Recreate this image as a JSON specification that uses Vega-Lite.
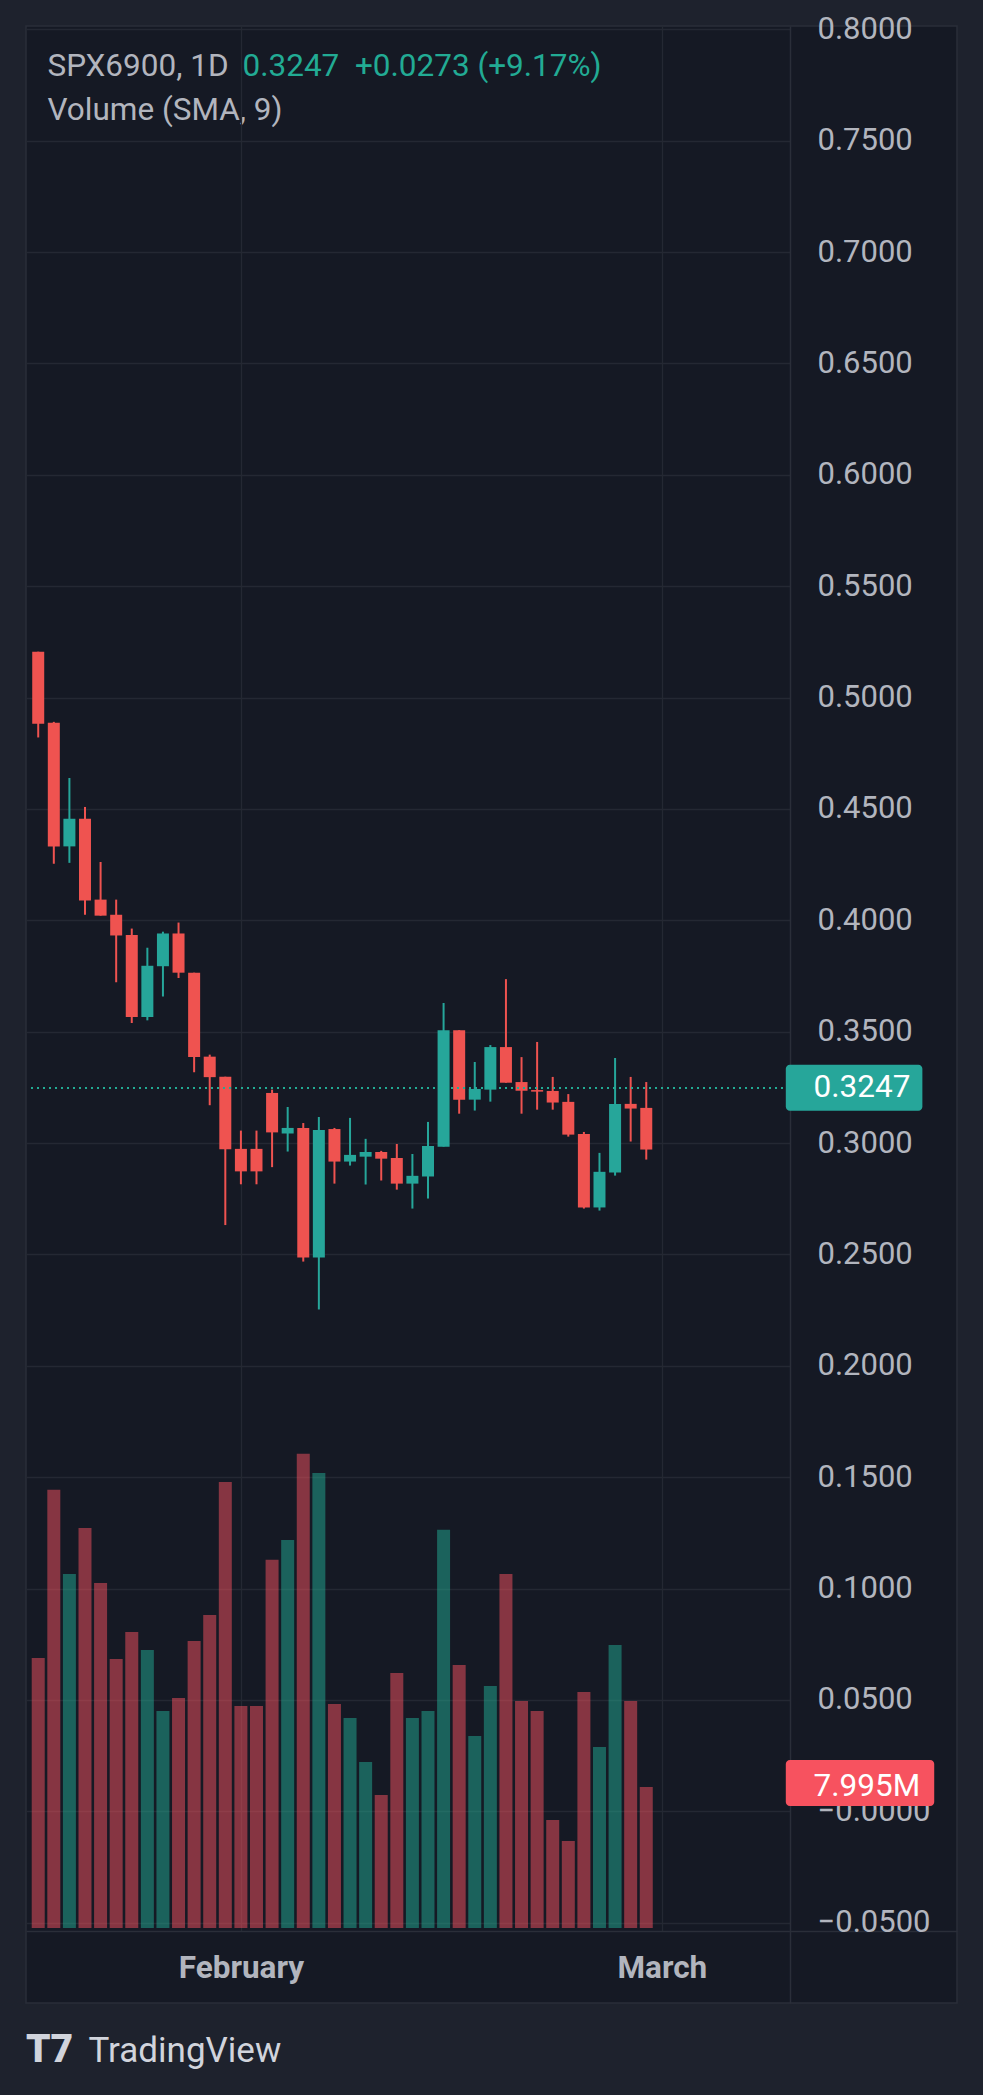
{
  "$schema": "https://vega.github.io/schema/vega-lite/v6.json",
  "width": 931,
  "height": 1977,
  "autosize": {"type": "none"},
  "padding": {"left": 26, "top": 26, "right": 26, "bottom": 92},
  "background": "#1e222d",
  "title": {
    "text": "T7",
    "orient": "none",
    "anchor": "start",
    "frame": "group",
    "dx": 0,
    "dy": 2024,
    "baseline": "middle",
    "font": "Roboto",
    "fontSize": 39,
    "fontWeight": 900,
    "color": "#d1d4dc"
  },
  "config": {
    "view": {"fill": "#151924", "stroke": "#2a2e39", "strokeWidth": 1.5},
    "font": "Roboto"
  },
  "datasets": {
    "candles": [
      {"i": 1, "open": 0.5206, "high": 0.5206, "low": 0.4821, "close": 0.4883, "volume": 15.31},
      {"i": 2, "open": 0.4887, "high": 0.4891, "low": 0.4254, "close": 0.4332, "volume": 24.84},
      {"i": 3, "open": 0.4332, "high": 0.4639, "low": 0.4258, "close": 0.4456, "volume": 20.07},
      {"i": 4, "open": 0.4456, "high": 0.4509, "low": 0.4025, "close": 0.4089, "volume": 22.68},
      {"i": 5, "open": 0.4093, "high": 0.4262, "low": 0.4021, "close": 0.4021, "volume": 19.56},
      {"i": 6, "open": 0.4025, "high": 0.4093, "low": 0.3722, "close": 0.3932, "volume": 15.25},
      {"i": 7, "open": 0.3934, "high": 0.3963, "low": 0.3539, "close": 0.3566, "volume": 16.78},
      {"i": 8, "open": 0.3566, "high": 0.3877, "low": 0.3551, "close": 0.3796, "volume": 15.76},
      {"i": 9, "open": 0.3794, "high": 0.3949, "low": 0.3658, "close": 0.3941, "volume": 12.30},
      {"i": 10, "open": 0.3941, "high": 0.3990, "low": 0.3741, "close": 0.3765, "volume": 13.04},
      {"i": 11, "open": 0.3765, "high": 0.3765, "low": 0.3318, "close": 0.3386, "volume": 16.27},
      {"i": 12, "open": 0.3388, "high": 0.3397, "low": 0.3170, "close": 0.3296, "volume": 17.75},
      {"i": 13, "open": 0.3298, "high": 0.3298, "low": 0.2632, "close": 0.2972, "volume": 25.29},
      {"i": 14, "open": 0.2974, "high": 0.3056, "low": 0.2815, "close": 0.2873, "volume": 12.59},
      {"i": 15, "open": 0.2974, "high": 0.3056, "low": 0.2815, "close": 0.2873, "volume": 12.59},
      {"i": 16, "open": 0.3225, "high": 0.3240, "low": 0.2892, "close": 0.3048, "volume": 20.87},
      {"i": 17, "open": 0.3043, "high": 0.3162, "low": 0.2962, "close": 0.3068, "volume": 22.00},
      {"i": 18, "open": 0.3068, "high": 0.3090, "low": 0.2468, "close": 0.2486, "volume": 26.88},
      {"i": 19, "open": 0.2486, "high": 0.3117, "low": 0.2253, "close": 0.3059, "volume": 25.80},
      {"i": 20, "open": 0.3063, "high": 0.3068, "low": 0.2818, "close": 0.2917, "volume": 12.70},
      {"i": 21, "open": 0.2917, "high": 0.3113, "low": 0.2899, "close": 0.2947, "volume": 11.91},
      {"i": 22, "open": 0.2939, "high": 0.3019, "low": 0.2814, "close": 0.2960, "volume": 9.41},
      {"i": 23, "open": 0.2960, "high": 0.2965, "low": 0.2832, "close": 0.2930, "volume": 7.54},
      {"i": 24, "open": 0.2933, "high": 0.2996, "low": 0.2791, "close": 0.2818, "volume": 14.46},
      {"i": 25, "open": 0.2818, "high": 0.2951, "low": 0.2706, "close": 0.2853, "volume": 11.91},
      {"i": 26, "open": 0.2850, "high": 0.3095, "low": 0.2751, "close": 0.2987, "volume": 12.30},
      {"i": 27, "open": 0.2984, "high": 0.3629, "low": 0.2984, "close": 0.3507, "volume": 22.57},
      {"i": 28, "open": 0.3507, "high": 0.3507, "low": 0.3132, "close": 0.3195, "volume": 14.91},
      {"i": 29, "open": 0.3195, "high": 0.3364, "low": 0.3146, "close": 0.3243, "volume": 10.89},
      {"i": 30, "open": 0.3240, "high": 0.3440, "low": 0.3186, "close": 0.3431, "volume": 13.72},
      {"i": 31, "open": 0.3431, "high": 0.3736, "low": 0.3271, "close": 0.3271, "volume": 20.07},
      {"i": 32, "open": 0.3274, "high": 0.3386, "low": 0.3132, "close": 0.3235, "volume": 12.87},
      {"i": 33, "open": 0.3238, "high": 0.3454, "low": 0.3150, "close": 0.3231, "volume": 12.30},
      {"i": 34, "open": 0.3234, "high": 0.3297, "low": 0.3150, "close": 0.3182, "volume": 6.12},
      {"i": 35, "open": 0.3185, "high": 0.3220, "low": 0.3029, "close": 0.3038, "volume": 4.93},
      {"i": 36, "open": 0.3041, "high": 0.3050, "low": 0.2706, "close": 0.2711, "volume": 13.38},
      {"i": 37, "open": 0.2711, "high": 0.2956, "low": 0.2697, "close": 0.2871, "volume": 10.26},
      {"i": 38, "open": 0.2868, "high": 0.3382, "low": 0.2854, "close": 0.3176, "volume": 16.05},
      {"i": 39, "open": 0.3176, "high": 0.3297, "low": 0.3007, "close": 0.3155, "volume": 12.87},
      {"i": 40, "open": 0.3158, "high": 0.3274, "low": 0.2926, "close": 0.2971, "volume": 7.995}
    ],
    "last": [
      {"price": 0.3247, "volume": 7.995, "vlabel": "7.995M"}
    ]
  },
  "resolve": {
    "scale": {"y": "independent"},
    "axis": {"x": "independent", "y": "independent"}
  },
  "layer": [
    {
      "data": {"name": "candles"},
      "mark": {"type": "bar", "width": 13, "opacity": 0.5},
      "encoding": {
        "x": {
          "field": "i", "type": "quantitative",
          "scale": {"domain": [0.5368, 59.61], "nice": false, "zero": false},
          "axis": {
            "orient": "top", "domain": false, "ticks": false, "labels": false, "grid": false,
            "title": "Volume (SMA, 9)", "titleX": 21, "titleY": 84, "titleAlign": "left", "titleBaseline": "middle",
            "titleFontSize": 31.5, "titleFontWeight": "normal", "titleColor": "#b2b5be", "titleFont": "Roboto"
          }
        },
        "y": {
          "field": "volume", "type": "quantitative",
          "scale": {"domain": [-4.25, 107.82], "nice": false, "zero": false},
          "axis": {
            "orient": "left", "domain": false, "ticks": false, "labels": false, "grid": false,
            "title": "0.3247\u00a0\u00a0+0.0273 (+9.17%)", "titleX": 216, "titleY": 40, "titleAngle": 0,
            "titleAlign": "left", "titleBaseline": "middle",
            "titleFontSize": 31.5, "titleFontWeight": "normal", "titleColor": "#22ab94", "titleFont": "Roboto"
          }
        },
        "y2": {"datum": 0},
        "color": {
          "condition": {"test": "datum.close >= datum.open", "value": "#22ab94"},
          "value": "#f7525f"
        }
      }
    },
    {
      "data": {"name": "candles"},
      "mark": {"type": "rule", "strokeWidth": 2},
      "encoding": {
        "x": {
          "field": "i", "type": "quantitative",
          "scale": {"domain": [0.5368, 59.61], "nice": false, "zero": false},
          "axis": {
            "orient": "bottom", "offset": -72, "values": [14, 41],
            "labelExpr": "datum.value == 14 ? 'February' : 'March'",
            "domainColor": "#2a2e39", "domainWidth": 1.5,
            "ticks": true, "tickSize": -1905, "tickColor": "#242833", "tickWidth": 1.3,
            "grid": false,
            "labelPadding": 1942, "labelBaseline": "middle", "labelAlign": "center",
            "labelFontSize": 31.5, "labelFontWeight": "bold", "labelColor": "#b2b5be", "labelFont": "Roboto",
            "labelOverlap": false, "labelFlush": false, "labelBound": false,
            "title": "TradingView", "titleX": 62, "titleY": 119, "titleAlign": "left", "titleBaseline": "middle",
            "titleFontSize": 35, "titleFontWeight": "normal", "titleColor": "#d1d4dc", "titleFont": "Roboto"
          }
        },
        "y": {
          "field": "low", "type": "quantitative",
          "scale": {"domain": [-0.08605, 0.8015], "nice": false, "zero": false},
          "axis": {
            "orient": "right", "offset": -167,
            "values": [-0.05, 0, 0.05, 0.1, 0.15, 0.2, 0.25, 0.3, 0.35, 0.4, 0.45, 0.5, 0.55, 0.6, 0.65, 0.7, 0.75, 0.8],
            "labelExpr": "(datum.value < 0.00001 ? '\u2212' : '') + format(abs(datum.value), '.4f')",
            "domainColor": "#2a2e39", "domainWidth": 1.5,
            "ticks": true, "tickSize": -764, "tickColor": "#242833", "tickWidth": 1.3,
            "grid": false,
            "labelPadding": 791, "labelAlign": "left", "labelBaseline": "middle",
            "labelFontSize": 31, "labelColor": "#b2b5be", "labelFont": "Roboto",
            "labelOverlap": false, "labelFlush": false, "labelBound": false,
            "title": "SPX6900, 1D", "titleX": -743, "titleY": 40, "titleAngle": 0,
            "titleAlign": "left", "titleBaseline": "middle",
            "titleFontSize": 31.5, "titleFontWeight": "normal", "titleColor": "#b2b5be", "titleFont": "Roboto"
          }
        },
        "y2": {"field": "high"},
        "color": {
          "condition": {"test": "datum.close >= datum.open", "value": "#26a69a"},
          "value": "#ef5350"
        }
      }
    },
    {
      "data": {"name": "candles"},
      "mark": {"type": "bar", "width": 12},
      "encoding": {
        "x": {"field": "i", "type": "quantitative", "scale": {"domain": [0.5368, 59.61], "nice": false, "zero": false}, "axis": null},
        "y": {"field": "open", "type": "quantitative", "scale": {"domain": [-0.08605, 0.8015], "nice": false, "zero": false}, "axis": null},
        "y2": {"field": "close"},
        "color": {
          "condition": {"test": "datum.close >= datum.open", "value": "#26a69a"},
          "value": "#ef5350"
        }
      }
    },
    {
      "data": {"name": "last"},
      "mark": {"type": "rule", "strokeWidth": 2, "strokeDash": [2, 4], "color": "#22ab94"},
      "encoding": {
        "x": {"datum": 0.5368, "type": "quantitative", "scale": {"domain": [0.5368, 59.61], "nice": false, "zero": false}, "axis": null},
        "x2": {"datum": 48.95},
        "y": {"field": "price", "type": "quantitative", "scale": {"domain": [-0.08605, 0.8015], "nice": false, "zero": false}, "axis": null}
      }
    },
    {
      "data": {"name": "last"},
      "mark": {"type": "bar", "height": 46, "color": "#26a69a", "cornerRadiusEnd": 4},
      "encoding": {
        "x": {"datum": 48.95, "type": "quantitative", "scale": {"domain": [0.5368, 59.61], "nice": false, "zero": false}, "axis": null},
        "x2": {"datum": 57.71},
        "y": {"field": "price", "type": "quantitative", "scale": {"domain": [-0.08605, 0.8015], "nice": false, "zero": false}, "axis": null}
      }
    },
    {
      "data": {"name": "last"},
      "mark": {"type": "text", "align": "left", "baseline": "middle", "fontSize": 31.5, "color": "#ffffff", "font": "Roboto"},
      "encoding": {
        "x": {"datum": 50.73, "type": "quantitative", "scale": {"domain": [0.5368, 59.61], "nice": false, "zero": false}, "axis": null},
        "y": {"field": "price", "type": "quantitative", "scale": {"domain": [-0.08605, 0.8015], "nice": false, "zero": false}, "axis": null},
        "text": {"field": "price", "type": "quantitative", "format": ".4f"}
      }
    },
    {
      "data": {"name": "last"},
      "mark": {"type": "bar", "height": 46, "color": "#f7525f", "cornerRadiusEnd": 4},
      "encoding": {
        "x": {"datum": 48.95, "type": "quantitative", "scale": {"domain": [0.5368, 59.61], "nice": false, "zero": false}, "axis": null},
        "x2": {"datum": 58.47},
        "y": {"field": "volume", "type": "quantitative", "scale": {"domain": [-4.25, 107.82], "nice": false, "zero": false}, "axis": null}
      }
    },
    {
      "data": {"name": "last"},
      "mark": {"type": "text", "align": "left", "baseline": "middle", "fontSize": 31.5, "color": "#ffffff", "font": "Roboto"},
      "encoding": {
        "x": {"datum": 50.73, "type": "quantitative", "scale": {"domain": [0.5368, 59.61], "nice": false, "zero": false}, "axis": null},
        "y": {"field": "volume", "type": "quantitative", "scale": {"domain": [-4.25, 107.82], "nice": false, "zero": false}, "axis": null},
        "text": {"field": "vlabel", "type": "nominal"}
      }
    }
  ]
}
